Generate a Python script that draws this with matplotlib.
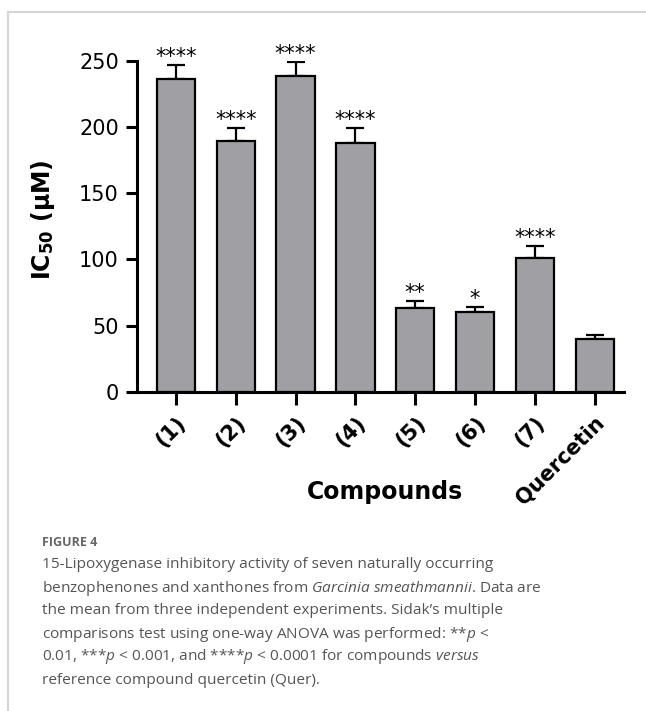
import matplotlib
matplotlib.use("Agg")
import matplotlib.pyplot as plt
from matplotlib.lines import Line2D

compounds = ["(1)", "(2)", "(3)", "(4)", "(5)", "(6)", "(7)", "Quercetin"]
ic50 = [236, 189, 238.5, 188, 63, 60, 101, 40]
ic50_err = [10.5, 10, 10.5, 11.4, 5.5, 3.7, 9, 3]
stars = ["****", "****", "****", "****", "**", "*", "****", ""]

caption_lines = [
    "15-Lipoxygenase inhibitory activity of seven naturally occurring",
    r"benzophenones and xanthones from $\mathit{Garcinia\ smeathmannii}$. Data are",
    "the mean from three independent experiments. Sidak\u2019s multiple",
    r"comparisons test using one-way ANOVA was performed: **$\mathit{p}$ <",
    r"0.01, ***$\mathit{p}$ < 0.001, and ****$\mathit{p}$ < 0.0001 for compounds $\mathit{versus}$",
    "reference compound quercetin (Quer).",
]

plt.rcParams["mathtext.fontset"] = "custom"
plt.rcParams["mathtext.rm"] = "Open Sans"
plt.rcParams["mathtext.it"] = "Open Sans:italic"
plt.rcParams["mathtext.bf"] = "DejaVu Sans:bold"

fig = plt.figure(figsize=(6.46, 7.11), dpi=100)
ax = fig.add_axes([0.212, 0.449, 0.754, 0.4656])

x = range(len(compounds))
ax.bar(x, ic50, width=0.64, color="#a09fa4", edgecolor="black", linewidth=1.6, zorder=2)
ax.errorbar(x, ic50, yerr=[[0] * len(ic50), ic50_err], fmt="none", ecolor="black",
            elinewidth=1.6, capsize=6.8, capthick=1.6, zorder=1)

for xi, m, e, s in zip(x, ic50, ic50_err, stars):
    if s:
        ax.annotate(s, (xi, m + e), xytext=(0, 1.5), textcoords="offset points",
                    ha="center", va="baseline", fontsize=15)

ax.set_xlim(-0.652, 7.49)
ax.set_ylim(0, 250)
ax.set_yticks([0, 50, 100, 150, 200, 250])
ax.set_xticks(list(x))
ax.set_xticklabels(compounds, rotation=45, ha="right", rotation_mode="anchor",
                   fontsize=15, fontweight="bold")
ax.tick_params(axis="y", length=8, width=2.2, labelsize=15, pad=5)
ax.tick_params(axis="x", length=9, width=2.2, pad=6)
for side in ["top", "right"]:
    ax.spines[side].set_visible(False)
for side in ["left", "bottom"]:
    ax.spines[side].set_linewidth(2.2)

ax.text(-0.193, 0.52, "IC$_\\mathbf{50}$ (\u03bcM)",
        transform=ax.transAxes, rotation=90, ha="center", va="center",
        fontsize=17, fontweight="bold")
ax.text(0.509, -0.303, "Compounds", transform=ax.transAxes, ha="center", va="center",
        fontsize=17, fontweight="bold")

# frame lines of the figure panel
fig.add_artist(Line2D([8 / 646, 1], [1 - 12 / 711] * 2, color="#d4d4d4", linewidth=1.5))
fig.add_artist(Line2D([8 / 646] * 2, [0, 1 - 12 / 711], color="#d4d4d4", linewidth=1.5))

fig.text(42 / 646, 1 - 542 / 711, "FIGURE 4", family="Open Sans", fontweight="bold",
         fontsize=9, color="#666666", va="center")
for i, line in enumerate(caption_lines):
    fig.text(42 / 646, 1 - (565 + 23 * i) / 711, line, family=["Open Sans", "DejaVu Sans"],
             fontsize=11.1, color="#555555", va="center")

fig.savefig("out.png", dpi=100)
